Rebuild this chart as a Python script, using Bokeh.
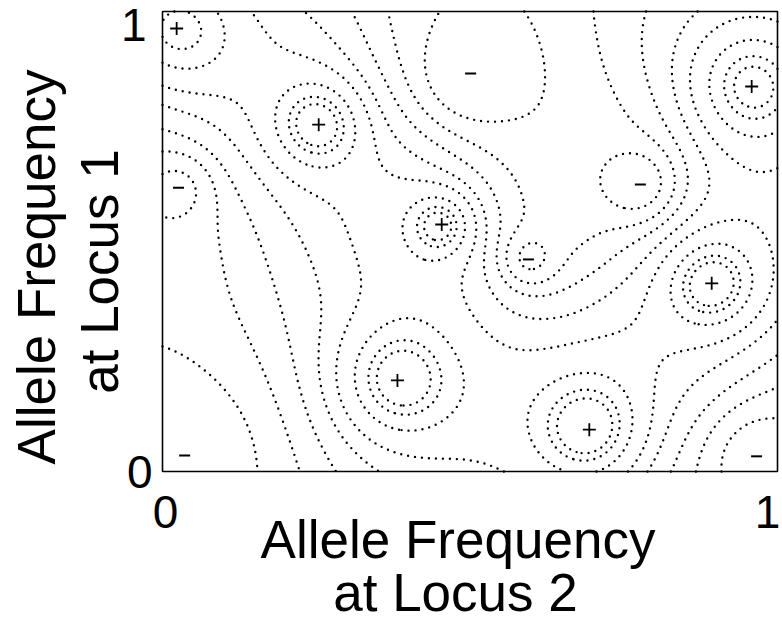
import numpy as np
from bokeh.plotting import figure
from bokeh.models import Range1d, ColumnDataSource
from bokeh.core.properties import value
from bokeh.embed import file_html
from bokeh.resources import INLINE

# ---- data ----
# local maxima (+)
peak_x = [0.023, 0.254, 0.958, 0.454, 0.893, 0.382, 0.694]
peak_y = [0.963, 0.754, 0.837, 0.537, 0.409, 0.198, 0.091]
peak_h = [0.9, 0.95, 1.05, 0.85, 1.0, 1.0, 1.0]
peak_w = [40, 30, 42, 22, 30, 40, 36]          # spread, in frame pixels

# local minima (-)
valley_x = [0.501, 0.026, 0.777, 0.595, 0.036, 0.966]
valley_y = [0.865, 0.617, 0.624, 0.461, 0.035, 0.033]
valley_h = [-0.75, -0.5, -0.75, -0.6, -0.8, -0.55]
valley_w = [26, 22, 24, 18, 30, 30]

levels = [-0.1, 0.1, 0.25, 0.4, 0.55, 0.75, 0.9, 0.98]

x_ticks = ["0", "1"]
y_ticks = ["0", "1"]
x_title = ["Allele Frequency", "at Locus 2"]
y_title = ["Allele Frequency", "at Locus 1"]

# ---- layout (pixels) ----
CW, CH = 782, 624                   # canvas
FL, FT, FW, FH = 162, 11, 615, 460  # plot box: left, top, width, height
FB = FT + FH
SHIFT = 19                          # baseline correction of the renderer

def dx(px):
    return (px - FL) / FW

def dy(py):
    return (FB - py) / FH

# ---- landscape built from the features ----
gx = np.linspace(0, 1, 301)
gy = np.linspace(0, 1, 301)
X, Y = np.meshgrid(gx, gy)
Z = np.zeros_like(X)
for cx, cy, h, w in zip(peak_x + valley_x, peak_y + valley_y,
                        peak_h + valley_h, peak_w + valley_w):
    d2 = ((X - cx) * FW) ** 2 + ((Y - cy) * FH) ** 2
    Z += h * (0.55 * np.exp(-d2 / (2.0 * w * w))
              + 0.45 * np.exp(-d2 / (2.0 * (3.0 * w) ** 2)))

p = figure(width=CW, height=CH, output_backend="svg", toolbar_location=None,
           x_range=Range1d(dx(0), dx(CW)), y_range=Range1d(dy(CH), dy(0)),
           x_axis_location=None, y_axis_location=None,
           min_border=0)
p.grid.visible = False
p.outline_line_color = None
p.background_fill_color = "white"
p.border_fill_color = "white"

cr = p.contour(x=gx, y=gy, z=Z, levels=levels, fill_color=None,
               line_color="black", line_width=2.4)
g = cr.line_renderer.glyph
g.line_dash = "0 7"
g.line_cap = "round"

# plot box
p.quad(left=[0], right=[1], bottom=[0], top=[1], fill_color=None,
       line_color="black", line_width=1.6)

p.scatter(peak_x, peak_y, marker="cross", size=13, line_width=1.8,
          line_color="black")
p.scatter(valley_x, valley_y, marker="dash", size=11, line_width=2.0,
          line_color="black")

FONT = value("Liberation Sans")

def txt(texts, xs, ys, size, align="center", angle=0.0):
    src = ColumnDataSource(dict(x=xs, y=ys, t=texts))
    p.text(x="x", y="y", text="t", source=src, text_font=FONT,
           text_font_size=f"{size}px", text_align=align,
           text_baseline="alphabetic", angle=angle, text_color="black")

# tick labels
txt([y_ticks[1], y_ticks[0]], [dx(146), dx(152)],
    [dy(43 - SHIFT), dy(490 - SHIFT)], 46, align="right")
txt([x_ticks[0], x_ticks[1]], [dx(165), dx(767)],
    [dy(530 - SHIFT), dy(530 - SHIFT)], 46)

# axis titles
txt(x_title, [dx(457.5), dx(455)], [dy(558 - SHIFT), dy(611 - SHIFT)], 53)
txt(y_title, [dx(55 - SHIFT), dx(118 - SHIFT)], [dy(266.5), dy(271)], 53,
    angle=np.pi / 2)

open("out.html", "w").write(file_html(p, INLINE))
